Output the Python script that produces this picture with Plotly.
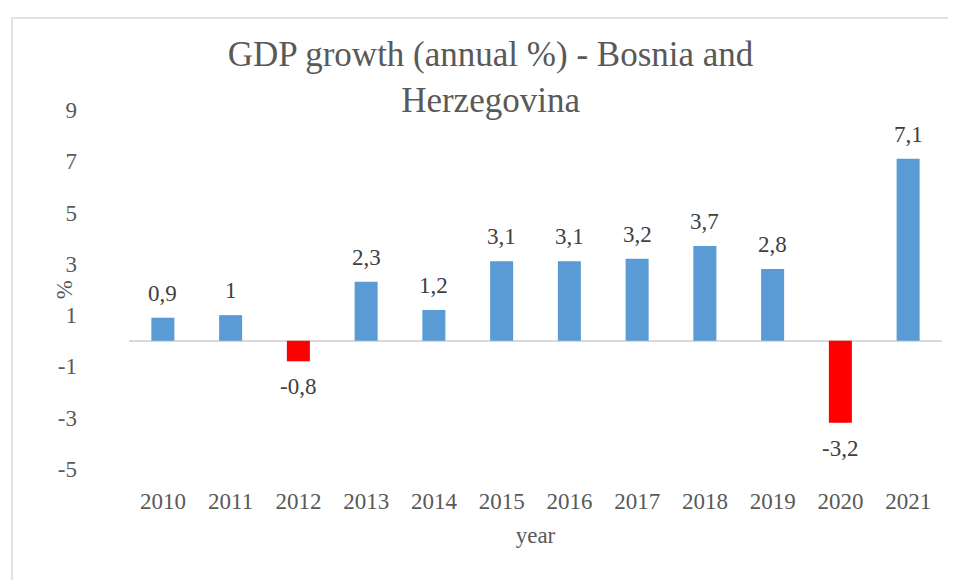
import plotly.graph_objects as go

# GDP growth (annual %) - Bosnia and Herzegovina
years = ['2010', '2011', '2012', '2013', '2014', '2015', '2016', '2017', '2018', '2019', '2020', '2021']
growth = [0.9, 1.0, -0.8, 2.3, 1.2, 3.1, 3.1, 3.2, 3.7, 2.8, -3.2, 7.1]
y_ticks = [-5, -3, -1, 1, 3, 5, 7, 9]

colors = ['#5B9BD5' if v >= 0 else '#FF0000' for v in growth]
labels = [('%g' % v).replace('.', ',') for v in growth]

fnt = 'Liberation Serif, Times New Roman, serif'
grey = '#595959'

fig = go.Figure(go.Bar(
    x=years, y=growth,
    marker=dict(color=colors, line=dict(width=0)),
    width=0.34,
    hoverinfo='x+y',
))

# data labels above positive bars, below negative ones
# (category axis: annotation x is the category index)
for i, (v, lab) in enumerate(zip(growth, labels)):
    fig.add_annotation(x=i, y=v, text=lab, showarrow=False,
                       yanchor='bottom' if v >= 0 else 'top',
                       yshift=10 if v >= 0 else -11,
                       font=dict(family=fnt, size=23, color='#404040'))

fig.update_layout(
    width=948, height=572,
    margin=dict(l=121, r=14, t=102, b=111),
    paper_bgcolor='white', plot_bgcolor='white',
    showlegend=False,
    font=dict(family=fnt, color=grey),
    title=dict(text='GDP growth (annual %) - Bosnia and<br>Herzegovina',
               x=0.509, xanchor='center', y=0.898, yanchor='middle',
               font=dict(family=fnt, size=35, color=grey)),
    xaxis=dict(type='category', showline=False, showgrid=False, zeroline=False, ticks='',
               tickfont=dict(size=23, color=grey), ticklabelstandoff=16,
               title=dict(text='year', font=dict(size=23, color=grey), standoff=13)),
    yaxis=dict(range=[-5, 9], tickvals=y_ticks,
               ticktext=[str(t) for t in y_ticks],
               showgrid=False, showline=False, ticks='',
               zeroline=True, zerolinecolor='#D9D9D9', zerolinewidth=1.5,
               tickfont=dict(size=23, color=grey), ticklabelstandoff=51),
)

fig.add_annotation(text='%', xref='paper', yref='paper', x=-0.097, y=0.5,
                   textangle=-90, showarrow=False,
                   font=dict(family=fnt, size=23, color=grey))

fig.add_shape(type='rect', xref='paper', yref='paper',
              x0=-0.144, x1=1.1, y0=-0.5, y1=1.256,
              line=dict(color='#D9D9D9', width=1.5), layer='below')

fig.write_html('out.html')
